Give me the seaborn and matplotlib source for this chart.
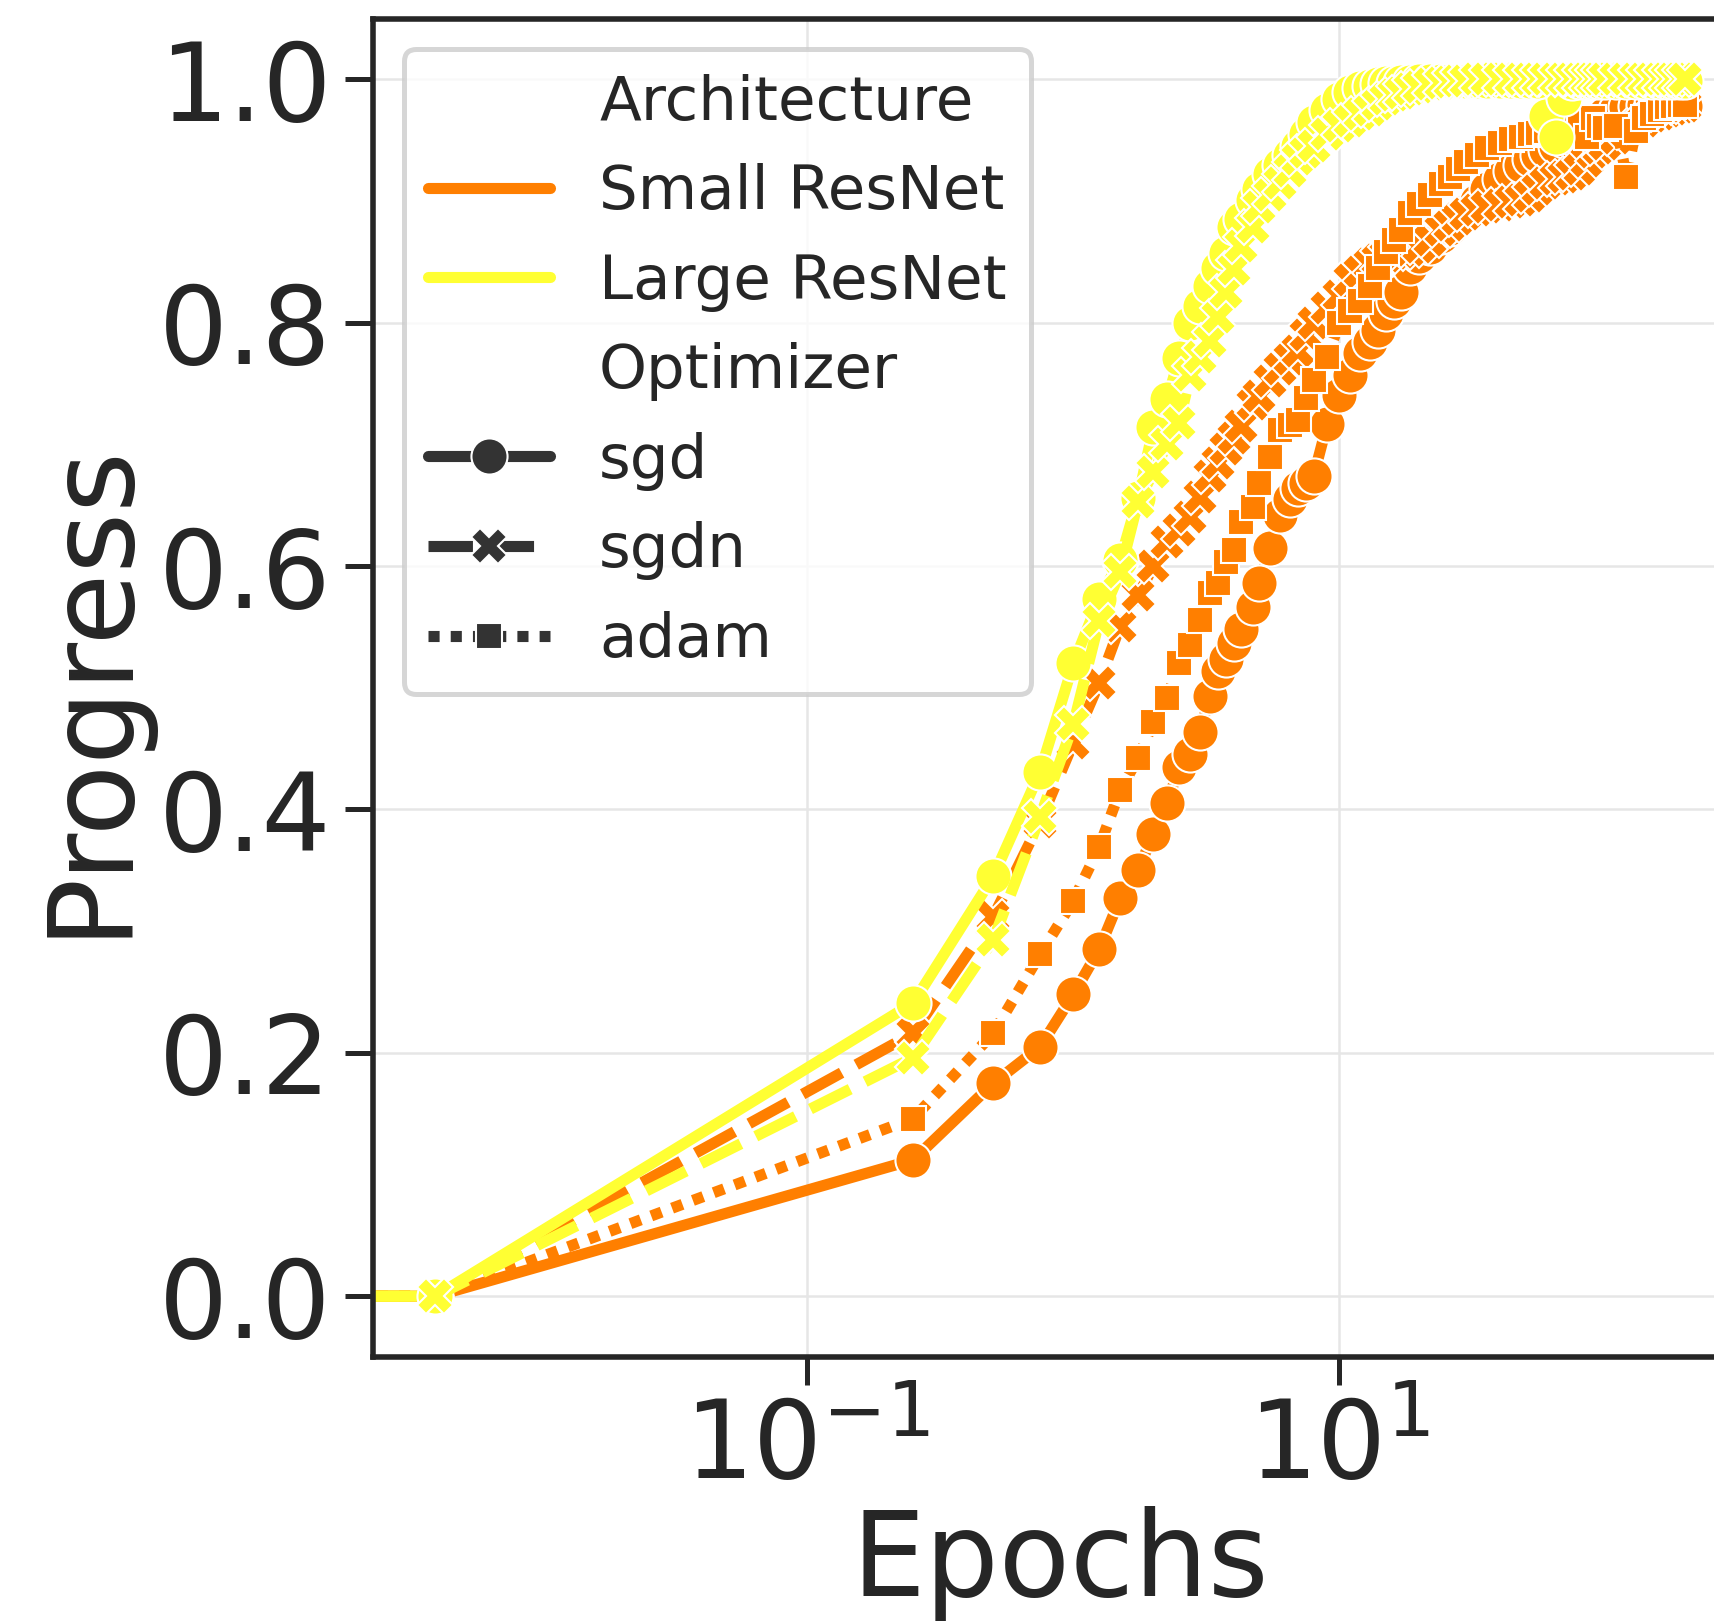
import warnings
warnings.filterwarnings("ignore")
import numpy as np
import pandas as pd
import matplotlib
matplotlib.use("Agg")
import matplotlib.pyplot as plt
from matplotlib.ticker import NullLocator
import seaborn as sns

# ---------------- data ----------------
epochs = [0, 0.004, 0.25, 0.5, 0.75, 1.0, 1.25, 1.5, 1.75, 2.0, 2.25, 2.5, 2.75,
          3.0, 3.25, 3.5, 3.75, 4.0, 4.25, 4.75, 5.0, 5.5, 6.0, 6.5, 7.0, 7.5,
          8.0, 9.0, 10, 11, 12, 13, 14, 15, 16, 17, 18.5, 20, 22, 24, 26, 28,
          30, 33, 36, 40, 44, 48, 52, 56, 60, 65, 70, 75, 80, 85, 90, 95, 100,
          110, 120, 130, 140, 150, 160, 170, 180, 190, 200]

small_sgd = [0, 0, 0.112, 0.175, 0.205, 0.248, 0.285, 0.327, 0.350, 0.380, 0.405, 0.435, 0.446,
             0.464, 0.493, 0.514, 0.524, 0.537, 0.548, 0.566, 0.586, 0.615, 0.642, 0.655, 0.664, 0.668,
             0.674, 0.717, 0.741, 0.757, 0.775, 0.784, 0.794, 0.808, 0.818, 0.825, 0.846, 0.855, 0.862, 0.871, 0.878, 0.885,
             0.892, 0.900, 0.910, 0.918, 0.925, 0.930, 0.935, 0.938, 0.942, 0.945, 0.950, 0.953, 0.957, 0.960, 0.964, 0.968, 0.972,
             0.975, 0.977, 0.978, 0.979, 0.980, 0.980, 0.980, 0.979, 0.979, 0.978]

small_sgdn = [0, 0, 0.216, 0.312, 0.390, 0.455, 0.504, 0.551, 0.576, 0.600, 0.620, 0.630, 0.640,
              0.657, 0.674, 0.685, 0.696, 0.705, 0.715, 0.733, 0.740, 0.752, 0.762, 0.770, 0.777, 0.790,
              0.800, 0.812, 0.822, 0.835, 0.842, 0.848, 0.852, 0.855, 0.857, 0.858, 0.860, 0.862, 0.868, 0.876, 0.880, 0.885,
              0.889, 0.893, 0.895, 0.897, 0.899, 0.901, 0.904, 0.910, 0.915, 0.918, 0.920, 0.922, 0.926, 0.933, 0.940, 0.944, 0.947,
              0.952, 0.957, 0.962, 0.966, 0.970, 0.972, 0.974, 0.976, 0.977, 0.978]

small_adam = [0, 0, 0.146, 0.216, 0.281, 0.325, 0.369, 0.416, 0.442, 0.472, 0.492, 0.520, 0.535,
              0.556, 0.578, 0.586, 0.603, 0.613, 0.636, 0.649, 0.668, 0.690, 0.712, 0.716, 0.720, 0.738,
              0.753, 0.772, 0.800, 0.810, 0.818, 0.830, 0.845, 0.858, 0.868, 0.876, 0.890, 0.898, 0.905, 0.914, 0.920, 0.926,
              0.932, 0.938, 0.944, 0.948, 0.951, 0.953, 0.955, 0.956, 0.958, 0.960, 0.962, 0.964, 0.966, 0.953, 0.968, 0.962, 0.960,
              0.962, 0.920, 0.958, 0.968, 0.972, 0.975, 0.977, 0.978, 0.979, 0.979]

large_sgd = [0, 0, 0.241, 0.345, 0.431, 0.520, 0.573, 0.605, 0.656, 0.714, 0.737, 0.771, 0.800,
             0.814, 0.830, 0.845, 0.857, 0.879, 0.885, 0.901, 0.910, 0.922, 0.930, 0.938, 0.945, 0.955,
             0.965, 0.975, 0.984, 0.990, 0.993, 0.995, 0.996, 0.997, 0.997, 0.998, 0.998, 0.999, 0.999, 0.999, 0.999, 0.999,
             0.999, 0.999, 0.999, 0.999, 0.999, 0.999, 0.999, 0.999, 0.970, 0.953, 0.985, 0.998, 0.999, 0.999, 0.999, 0.999, 0.999,
             0.999, 0.999, 0.999, 0.999, 0.999, 0.999, 0.999, 0.999, 0.999, 0.999]

large_sgdn = [0, 0, 0.196, 0.293, 0.394, 0.470, 0.555, 0.595, 0.653, 0.677, 0.700, 0.718, 0.757,
              0.772, 0.785, 0.805, 0.825, 0.844, 0.863, 0.879, 0.895, 0.905, 0.915, 0.925, 0.935, 0.940,
              0.945, 0.955, 0.962, 0.966, 0.972, 0.975, 0.980, 0.984, 0.987, 0.989, 0.992, 0.994, 0.996, 0.997, 0.998, 0.999,
              0.999, 1.0, 1.0, 1.0, 1.0, 1.0, 1.0, 1.0, 1.0, 1.0, 1.0, 1.0, 1.0, 1.0, 1.0, 1.0, 1.0,
              1.0, 1.0, 1.0, 1.0, 1.0, 1.0, 1.0, 1.0, 1.0, 1.0]

architectures = ["Small ResNet", "Large ResNet"]
optimizers = ["sgd", "sgdn", "adam"]
palette = ["#ff7f00", "#ffff33"]

series = [
    ("Small ResNet", "sgd", small_sgd),
    ("Small ResNet", "sgdn", small_sgdn),
    ("Small ResNet", "adam", small_adam),
    ("Large ResNet", "sgd", large_sgd),
    ("Large ResNet", "sgdn", large_sgdn),
]

df = pd.concat(
    [pd.DataFrame({"Epochs": epochs, "Progress": vals,
                   "Architecture": arch, "Optimizer": opt})
     for arch, opt, vals in series],
    ignore_index=True,
)

# ---------------- style ----------------
sns.set_theme(style="ticks")
plt.rcParams.update({
    "font.family": ["DejaVu Sans"],
    "text.color": "#262626",
    "axes.labelcolor": "#262626",
    "xtick.color": "#262626",
    "ytick.color": "#262626",
    "axes.edgecolor": "#262626",
    "axes.linewidth": 2.0,
    "xtick.major.size": 10, "ytick.major.size": 10,
    "xtick.major.width": 1.8, "ytick.major.width": 1.8,
    "xtick.major.pad": 3.5, "ytick.major.pad": 5,
    "xtick.labelsize": 39, "ytick.labelsize": 39,
    "axes.labelsize": 42,
    "axes.labelpad": 2.5,
    "legend.fontsize": 22,
    "legend.edgecolor": "0.8",
    "patch.linewidth": 1.8,
    "lines.linewidth": 4,
    "lines.markersize": 13,
})

fig = plt.figure(figsize=(1715 / 200, 1622 / 200), dpi=200)
ax = fig.add_axes([373 / 1715, 1 - 1357 / 1622, (1748 - 373) / 1715, (1357 - 18.6) / 1622])
ax.set_xscale("log")
ax.set_axisbelow(True)
ax.grid(True, color="#e6e6e6", linewidth=0.9)

sns.lineplot(data=df, x="Epochs", y="Progress",
             hue="Architecture", style="Optimizer",
             hue_order=architectures, style_order=optimizers,
             palette=palette, markers=True, errorbar=None,
             linewidth=4, markersize=13, ax=ax)

ax.set_xticks([1e-1, 1e1])
ax.xaxis.set_minor_locator(NullLocator())
ax.set_yticks([0.0, 0.2, 0.4, 0.6, 0.8, 1.0])
ax.set_xlabel("Epochs", labelpad=2)
ax.set_ylabel("Progress", labelpad=4)
sns.move_legend(ax, "upper left", frameon=True, fontsize=22)

fig.savefig("out.png", dpi=200)
